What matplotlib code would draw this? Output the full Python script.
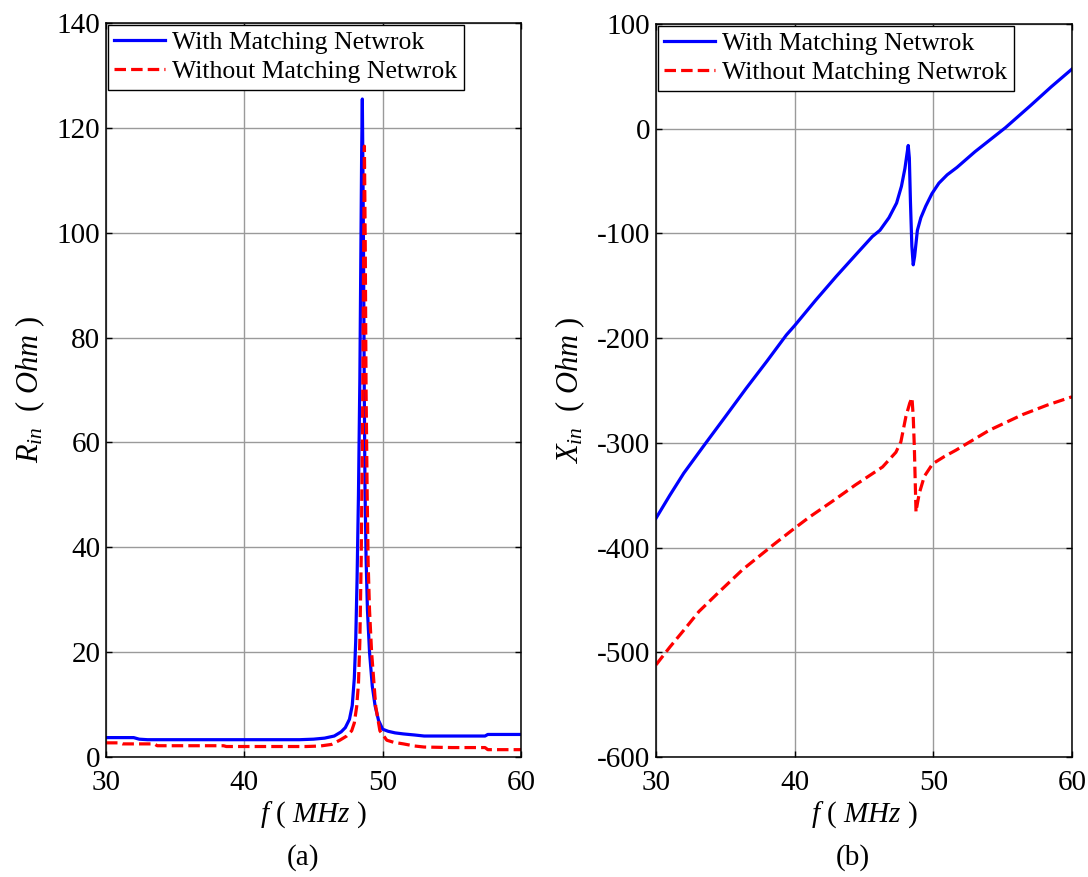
import numpy as np
import matplotlib
matplotlib.use('Agg')
import matplotlib.pyplot as plt

plt.rcParams['font.family'] = ['Liberation Serif', 'DejaVu Serif']
plt.rcParams['mathtext.fontset'] = 'custom'
plt.rcParams['mathtext.rm'] = 'Liberation Serif'
plt.rcParams['mathtext.it'] = 'Liberation Serif:italic'
plt.rcParams['axes.unicode_minus'] = False
plt.rcParams['font.size'] = 21

# ---- data ----
# (a) input resistance
f_rin_with = [30, 31, 32, 32.4, 33, 36, 40, 44, 45, 45.8, 46.5, 47.0, 47.3, 47.6, 47.8,
              47.95, 48.05, 48.15, 48.25, 48.35, 48.42, 48.48, 48.53, 48.58, 48.62, 48.67,
              48.72, 48.8, 48.9, 49.05, 49.25, 49.45, 49.7, 50.0, 50.4, 50.9, 51.5, 52.3,
              53, 55, 57.4, 57.6, 60]
rin_with = [3.7, 3.7, 3.7, 3.4, 3.3, 3.3, 3.3, 3.3, 3.4, 3.6, 4.0, 4.8, 5.6, 7.2, 9.8,
            15, 22, 34, 50, 72, 95, 115, 125.5, 110, 95, 70,
            52, 38, 28, 20, 13.5, 9.8, 7.0, 5.3, 4.9, 4.6, 4.4, 4.2,
            4.0, 4.0, 4.0, 4.3, 4.3]

f_rin_without = [30, 31, 31.2, 33.5, 33.7, 38.5, 38.7, 44.5, 45.5, 46.3, 46.9, 47.4, 47.76,
                 47.95, 48.12, 48.25, 48.35, 48.45, 48.55, 48.62, 48.68, 48.74, 48.8, 48.88,
                 48.95, 49.05, 49.2, 49.5, 49.8, 50.3, 50.8, 51.5, 52.3, 53, 55, 57.4, 57.6, 60]
rin_without = [2.7, 2.7, 2.5, 2.5, 2.15, 2.15, 2.0, 2.0, 2.1, 2.4, 3.2, 4.0, 5.0,
               6.5, 9.6, 14, 22, 38, 65, 95, 116.5, 98, 70, 50,
               37, 28, 20, 9.6, 5.0, 3.2, 2.8, 2.5, 2.1, 1.9, 1.8, 1.8, 1.4, 1.4]

# (b) input reactance
f_xin_with = [30, 31, 32, 33.6, 35, 36.5, 38, 39.4, 40, 41.5, 43, 44.5, 45.6, 46.15, 46.8,
              47.35, 47.7, 47.95, 48.1, 48.19, 48.27, 48.35, 48.45, 48.55, 48.65, 48.85,
              49.1, 49.45, 49.9, 50.4, 51.0, 51.7, 53, 55.2, 57, 58.5, 60]
xin_with = [-372, -350, -329, -300, -275, -248, -222, -197, -188, -164, -141, -119, -103, -97, -85,
            -71, -55, -38, -24, -16, -28, -70, -112, -130, -122, -97,
            -85, -74, -62, -52, -44, -37, -22, 1, 22, 40, 57]

f_xin_without = [30, 31, 32, 33.1, 34.5, 36.25, 38.4, 39.85, 41.05, 42.7, 44.4, 46.34, 47.3,
                 47.66, 48.02, 48.3, 48.46, 48.55, 48.63, 48.75, 48.85, 48.99, 49.35, 49.95,
                 50.8, 51.63, 54.03, 56.44, 58.2, 60]
xin_without = [-512, -495, -479, -461, -443, -421, -398, -383, -371, -356, -340, -323, -309,
               -299, -275, -262, -257, -275, -304, -366, -358, -348, -332, -320,
               -313, -307, -288, -273, -264, -256]

legend_labels = ['With Matching Netwrok', 'Without Matching Netwrok']

W, H = 1088, 877
fig = plt.figure(figsize=(W / 100, H / 100), dpi=100)
fig.patch.set_facecolor('white')

ax1 = fig.add_axes([106 / W, 1 - 757 / H, 415 / W, 734 / H])
ax2 = fig.add_axes([656 / W, 1 - 757 / H, 416 / W, 733 / H])

lw = 2.3
dash = (0, (3.6, 1.6))

ax1.plot(f_rin_with, rin_with, color='blue', lw=lw, label=legend_labels[0])
ax1.plot(f_rin_without, rin_without, color='red', lw=lw, linestyle=dash, label=legend_labels[1])
ax2.plot(f_xin_with, xin_with, color='blue', lw=lw, label=legend_labels[0])
ax2.plot(f_xin_without, xin_without, color='red', lw=lw, linestyle=dash, label=legend_labels[1])

ax1.set_ylim(0, 140)
ax1.set_yticks(np.arange(0, 141, 20))
ax2.set_ylim(-600, 100)
ax2.set_yticks(np.arange(-600, 101, 100))

for ax in (ax1, ax2):
    ax.set_xlim(30, 60)
    ax.set_xticks([30, 40, 50, 60])
    ax.grid(True, color='#9a9a9a', lw=1.0)
    ax.set_axisbelow(True)
    ax.tick_params(direction='in', top=True, right=True, length=4, width=1, pad=4)
    ax.tick_params(axis='x', pad=9)
    for s in ax.spines.values():
        s.set_linewidth(1.1)
        s.set_color('black')
    ax.set_xlabel(r'$f$ ( $MHz$ )', labelpad=3)
    leg = ax.legend(loc='upper left', borderaxespad=0.08, fancybox=False, framealpha=1,
                    edgecolor='black', handlelength=1.95, handletextpad=0.3,
                    borderpad=0.25, labelspacing=0.22, fontsize=18.5)
    leg.get_frame().set_linewidth(1.0)

ax1.set_ylabel(r'$R_{in}$  ( $Ohm$ )', labelpad=7, fontsize=22)
ax2.set_ylabel(r'$X_{in}$  ( $Ohm$ )', labelpad=7, fontsize=22)

fig.text(303 / W, 1 - 858 / H, '(a)', ha='center', va='center')
fig.text(853 / W, 1 - 858 / H, '(b)', ha='center', va='center')

fig.savefig('out.png', dpi=100)
